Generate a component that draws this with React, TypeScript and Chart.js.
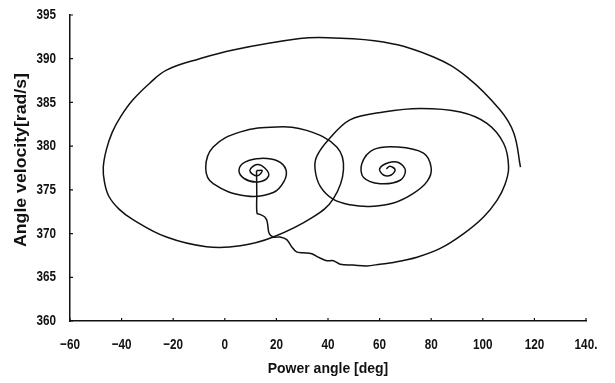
import React, { useEffect, useRef } from "react";
import { Chart, registerables } from "chart.js";

Chart.register(...registerables);

// Axis ticks
const xTicks = [-60, -40, -20, 0, 20, 40, 60, 80, 100, 120, 140];
const xTickLabels = ["\u221260", "\u221240", "\u221220", "0", "20", "40", "60", "80", "100", "120", "140."];
const yTicks = [360, 365, 370, 375, 380, 385, 390, 395];
const yTickLabels = ["360", "365", "370", "375", "380", "385", "390", "395"];
const xTitle = "Power angle [deg]";
const yTitle = "Angle velocity[rad/s]";

// Trajectory 1: large swing that spirals into the left equilibrium
const outerSwing: number[][] = [
  [114.6, 377.6], [112.0, 381.5], [106.8, 384.1], [93.9, 387.9], [80.9, 390.2],
  [61.5, 391.9], [40.0, 392.4], [29.1, 392.3], [3.2, 391.0], [-9.7, 390.0],
  [-22.6, 388.7], [-29.1, 387.2], [-35.6, 385.3], [-40.3, 383.4], [-43.6, 381.6],
  [-45.9, 379.6], [-47.1, 377.6], [-46.7, 376.0], [-45.0, 374.3], [-41.0, 372.8],
  [-35.6, 371.6], [-22.6, 369.6], [-7.1, 368.5], [6.0, 368.6], [18.8, 369.6],
  [34.3, 371.9], [42.1, 374.0], [46.0, 377.3], [43.4, 379.9], [31.7, 381.8],
  [20.1, 382.2], [5.8, 381.6], [-4.5, 379.9], [-7.4, 377.5], [-4.5, 375.7],
  [8.4, 374.3], [18.8, 374.7], [23.0, 376.0], [23.7, 377.3], [20.5, 378.3],
  [14.0, 378.6], [8.0, 378.2], [5.5, 377.3], [7.5, 376.3], [13.0, 375.9],
  [17.0, 376.6], [15.5, 377.5], [12.5, 377.9], [9.7, 377.2], [12.5, 376.6],
  [14.5, 377.2], [12.3, 377.2],
];

// Trajectory 2: from the left equilibrium, along the bottom, spiralling into the right equilibrium
const transferSwing: number[][] = [
  [12.3, 377.2], [12.4, 374.5], [12.5, 372.3], [13.6, 372.2], [15.5, 371.9],
  [16.4, 371.4], [17.2, 370.0], [18.8, 369.6], [21.4, 369.6], [24.0, 369.3],
  [25.9, 368.5], [27.8, 367.9], [30.4, 367.8], [33.7, 367.7], [36.2, 367.3],
  [39.5, 366.9], [42.1, 366.9], [44.7, 366.5], [49.8, 366.4], [55.0, 366.3],
  [60.2, 366.5], [65.4, 366.7], [74.5, 367.3], [83.5, 368.3], [92.6, 370.0],
  [100.3, 371.9], [105.5, 373.8], [108.6, 375.6], [110.0, 377.6], [108.1, 380.3],
  [101.6, 382.6], [91.3, 383.9], [75.8, 384.3], [61.5, 383.9], [48.5, 383.0],
  [40.1, 380.7], [35.6, 378.8], [35.0, 377.3], [37.0, 375.4], [42.1, 373.9],
  [48.5, 373.3], [56.3, 373.1], [65.4, 373.5], [73.1, 374.6], [78.5, 376.0],
  [80.0, 377.5], [77.0, 379.2], [67.0, 379.9], [57.6, 379.6], [53.1, 378.0],
  [53.8, 376.4], [60.2, 375.7], [68.0, 376.1], [70.0, 377.2], [67.5, 378.1],
  [63.4, 378.1], [60.0, 377.4], [61.5, 376.7], [64.5, 376.7], [66.0, 377.3],
  [64.0, 377.7], [62.6, 377.4],
];

const fontFamily = "'Liberation Sans', Arial, sans-serif";
const ink = "#111";

// Inward tick marks, narrow bold tick labels and the rotated y title
const axisDecor = {
  id: "axisDecor",
  afterDraw(chart: any) {
    const { ctx, scales } = chart;
    const xs = scales.x;
    const ys = scales.y;
    ctx.save();
    ctx.strokeStyle = ink;
    ctx.lineWidth = 1.2;
    ctx.beginPath();
    xTicks.forEach((v) => {
      const px = xs.getPixelForValue(v);
      ctx.moveTo(px, ys.bottom);
      ctx.lineTo(px, ys.bottom - 3);
    });
    yTicks.forEach((v) => {
      const py = ys.getPixelForValue(v);
      ctx.moveTo(xs.left, py);
      ctx.lineTo(xs.left + 3, py);
    });
    ctx.stroke();

    ctx.fillStyle = ink;
    ctx.font = `bold 15px ${fontFamily}`;
    ctx.textBaseline = "middle";
    // x tick labels
    ctx.textAlign = "center";
    xTicks.forEach((v, i) => {
      const px = xs.getPixelForValue(v);
      ctx.save();
      ctx.translate(px, ys.bottom + 24);
      ctx.scale(0.78, 1);
      ctx.fillText(xTickLabels[i], 0, 0);
      ctx.restore();
    });
    // y tick labels
    ctx.textAlign = "right";
    yTicks.forEach((v, i) => {
      const py = ys.getPixelForValue(v);
      ctx.save();
      ctx.translate(xs.left - 14, py);
      ctx.scale(0.78, 1);
      ctx.fillText(yTickLabels[i], 0, 0);
      ctx.restore();
    });
    // y title, stretched to its span in the original figure
    ctx.save();
    ctx.font = `bold 17px ${fontFamily}`;
    const w = ctx.measureText(yTitle).width;
    ctx.translate(22, 160);
    ctx.rotate(-Math.PI / 2);
    ctx.scale(174 / w, 0.95);
    ctx.textAlign = "center";
    ctx.fillText(yTitle, 0, 0);
    ctx.restore();
    ctx.restore();
  },
};

export default function App() {
  const ref = useRef<HTMLCanvasElement>(null);
  useEffect(() => {
    if (!ref.current) return;
    const toPts = (arr: number[][]) => arr.map(([x, y]) => ({ x, y }));
    const chart = new Chart(ref.current, {
      type: "scatter",
      data: {
        datasets: [
          {
            label: "swing 1",
            data: toPts(outerSwing),
            showLine: true,
            borderColor: ink,
            borderWidth: 1.5,
            pointRadius: 0,
            tension: 0.4,
          },
          {
            label: "swing 2",
            data: toPts(transferSwing),
            showLine: true,
            borderColor: ink,
            borderWidth: 1.5,
            pointRadius: 0,
            tension: 0.35,
          },
        ],
      },
      options: {
        responsive: false,
        animation: false,
        layout: { padding: { top: 15, right: 29, left: 0, bottom: 0 } },
        plugins: { legend: { display: false }, tooltip: { enabled: false } },
        scales: {
          x: {
            type: "linear",
            min: -60,
            max: 140,
            afterFit: (scale: any) => {
              scale.height = 62;
            },
            grid: { display: false, drawTicks: false },
            border: { display: true, color: ink, width: 1.5 },
            ticks: { display: false },
            title: {
              display: true,
              text: xTitle,
              color: ink,
              font: { family: fontFamily, size: 14, weight: "bold" },
              padding: { top: 0, bottom: 5 },
            },
          },
          y: {
            type: "linear",
            min: 360,
            max: 395,
            afterFit: (scale: any) => {
              scale.width = 70;
            },
            grid: { display: false, drawTicks: false },
            border: { display: true, color: ink, width: 1.5 },
            ticks: { display: false },
          },
        },
      },
      plugins: [axisDecor],
    });
    return () => chart.destroy();
  }, []);
  return (
    <div style={{ position: "absolute", left: 0, top: 0, width: 615, height: 383, background: "#fff" }}>
      <canvas ref={ref} width={615} height={383} style={{ width: 615, height: 383 }} />
    </div>
  );
}
